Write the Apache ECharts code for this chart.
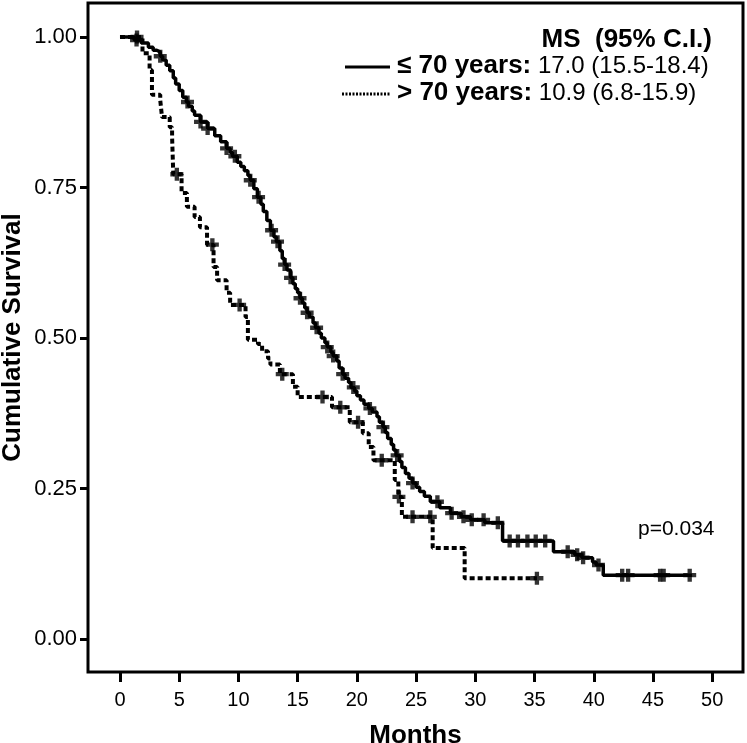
<!DOCTYPE html>
<html>
<head>
<meta charset="utf-8">
<script src="https://cdn.jsdelivr.net/npm/echarts@6/dist/echarts.min.js"></script>
<style>
html,body{margin:0;padding:0;background:#fff;}
#c{width:747px;height:743px;}
</style>
</head>
<body>
<div id="c"></div>
<script>
// ---- tick labels ----
const xTicks = [0, 5, 10, 15, 20, 25, 30, 35, 40, 45, 50];
const yTicks = [0, 0.25, 0.5, 0.75, 1.0];

// ---- <= 70 years (solid) : event times and survival after each event ----
const youngTime = [0, 1.2, 1.8, 2.4, 2.8, 3.1, 3.4, 3.6, 3.9, 4.2, 4.5, 4.7, 5.0, 5.3, 5.6, 5.8, 6.1, 6.3, 6.8, 7.4, 8.0, 8.5, 9.0, 9.3, 9.5, 9.9, 10.2,
  10.5, 10.8, 11.0, 11.3, 11.6, 11.9, 12.1, 12.4, 12.7, 13.0, 13.2, 13.5, 13.7, 13.9, 14.1, 14.4, 14.6, 14.8, 15.0, 15.2, 15.4, 15.6, 15.8, 16.0,
  16.3, 16.5, 16.8, 17.0, 17.3, 17.5, 17.8, 18.0, 18.3, 18.5, 18.8, 19.0, 19.3, 19.5, 19.8, 20.0, 20.3, 20.6, 21.0, 21.3, 21.7, 21.9, 22.2, 22.4,
  22.6, 22.9, 23.1, 23.3, 23.6, 23.8, 24.1, 24.4, 24.7, 25.0, 25.3, 25.7, 26.2, 27.0, 27.9, 28.8, 29.6, 30.8, 32.3, 36.6, 38.4, 39.0, 39.9, 40.2, 40.8];
const youngSurv = [1.0, 0.995, 0.99, 0.983, 0.978, 0.975, 0.968, 0.962, 0.953, 0.944, 0.932, 0.922, 0.911, 0.900, 0.892, 0.885, 0.877, 0.870, 0.859, 0.848, 0.836, 0.826, 0.815, 0.808, 0.802, 0.792, 0.785,
  0.778, 0.770, 0.762, 0.748, 0.734, 0.722, 0.710, 0.695, 0.679, 0.668, 0.660, 0.645, 0.632, 0.622, 0.613, 0.600, 0.590, 0.582, 0.575, 0.566, 0.558, 0.550, 0.542, 0.535,
  0.525, 0.517, 0.508, 0.500, 0.492, 0.485, 0.476, 0.470, 0.462, 0.450, 0.440, 0.433, 0.426, 0.418, 0.412, 0.404, 0.397, 0.390, 0.383, 0.377, 0.369, 0.360, 0.352, 0.343,
  0.333, 0.323, 0.314, 0.305, 0.295, 0.285, 0.275, 0.267, 0.259, 0.252, 0.245, 0.237, 0.228, 0.218, 0.209, 0.203, 0.198, 0.193, 0.163, 0.145, 0.140, 0.135, 0.128, 0.123, 0.106];
const youngEnd = 48.3;
const youngCensor = [1.4, 3.4, 5.7, 6.8, 7.4, 9.0, 9.7, 11.0, 11.7, 12.8, 13.3, 13.9, 14.4, 15.2, 15.8, 16.6, 17.5, 18.0, 18.8, 19.7,
  21.1, 22.2, 23.4, 24.7, 26.8, 28.0, 29.0, 29.7, 30.7, 31.9, 32.9, 33.6, 34.4, 35.1, 35.9, 37.8, 38.6, 39.1, 40.4, 42.4, 42.9, 45.6, 45.9, 48.1];

// ---- > 70 years (dotted) ----
const oldTime = [0, 1.9, 2.5, 2.7, 3.4, 3.55, 4.2, 4.4, 4.5, 5.2, 5.65, 6.3, 6.75, 7.35, 7.9, 8.2, 9.0, 9.3, 10.6, 10.8,
  11.65, 12.0, 12.5, 12.7, 13.5, 14.6, 15.0, 17.9, 19.4, 20.5, 21.0, 21.4, 23.2, 23.5, 23.8, 26.4, 29.1];
const oldSurv = [1.0, 0.973, 0.945, 0.904, 0.895, 0.867, 0.850, 0.834, 0.772, 0.741, 0.718, 0.701, 0.684, 0.655, 0.618, 0.596, 0.575, 0.555, 0.535, 0.497,
  0.490, 0.478, 0.466, 0.456, 0.440, 0.419, 0.402, 0.385, 0.360, 0.342, 0.319, 0.297, 0.264, 0.236, 0.203, 0.151, 0.101];
const oldEnd = 35.2;
const oldCensor = [1.44, 4.8, 7.8, 10.1, 13.7, 17.1, 18.6, 20.1, 22.1, 23.55, 24.7, 26.2, 35.2];

function stepData(times, survs, end) {
  const d = times.map((t, i) => [t, survs[i]]);
  d.push([end, survs[survs.length - 1]]);
  return d;
}
function survAt(times, survs, t) {
  let v = survs[0];
  for (let i = 0; i < times.length; i++) { if (times[i] <= t) v = survs[i]; }
  return v;
}
function censorData(times, survs, cens) {
  return cens.map(t => [t, survAt(times, survs, t)]);
}

const FONT = '"Liberation Sans", Arial, Helvetica, sans-serif';
const PLUS = 'path://M4,0H8V4H12V8H8V12H4V8H0V4H4Z';

const chart = echarts.init(document.getElementById('c'), null, {renderer: 'canvas'});
chart.setOption({
  animation: false,
  backgroundColor: '#fff',
  grid: {left: 88, top: 3, right: 4, bottom: 71, show: true, borderColor: '#000', borderWidth: 3,
         backgroundColor: 'transparent', containLabel: false, outerBoundsMode: 'none'},
  xAxis: {
    type: 'value', min: -2.70, max: 52.6,
    name: 'Months', nameLocation: 'middle', nameGap: 51,
    nameTextStyle: {fontFamily: FONT, fontWeight: 'bold', fontSize: 26, color: '#000'},
    axisLine: {show: false, onZero: false},
    axisTick: {show: true, inside: false, length: 10, lineStyle: {color: '#000', width: 3}, customValues: xTicks},
    axisLabel: {fontFamily: FONT, fontSize: 20, color: '#000', margin: 18, customValues: xTicks, formatter: v => String(v)},
    splitLine: {show: false}
  },
  yAxis: {
    type: 'value', min: -0.0548, max: 1.0565,
    name: 'Cumulative Survival', nameLocation: 'middle', nameGap: 62, nameMoveOverlap: false,
    nameTextStyle: {fontFamily: FONT, fontWeight: 'bold', fontSize: 26, color: '#000'},
    axisLine: {show: false, onZero: false},
    axisTick: {show: true, inside: false, length: 8, lineStyle: {color: '#000', width: 3}, customValues: yTicks},
    axisLabel: {fontFamily: FONT, fontSize: 22, color: '#000', margin: 11, customValues: yTicks, formatter: v => v.toFixed(2)},
    splitLine: {show: false}
  },
  series: [
    {type: 'line', step: 'end', showSymbol: false, data: stepData(youngTime, youngSurv, youngEnd),
     lineStyle: {color: '#000', width: 3.5}, z: 3},
    {type: 'line', step: 'end', showSymbol: false, data: stepData(oldTime, oldSurv, oldEnd),
     lineStyle: {color: '#000', width: 4, type: [5, 3]}, z: 3},
    {type: 'scatter', symbol: PLUS, symbolSize: 13, data: censorData(youngTime, youngSurv, youngCensor),
     itemStyle: {color: '#000'}, z: 4},
    {type: 'scatter', symbol: PLUS, symbolSize: 13, data: censorData(oldTime, oldSurv, oldCensor),
     itemStyle: {color: '#000'}, z: 4}
  ],
  graphic: [
    {type: 'text', right: 35, top: 27, style: {text: 'MS  (95% C.I.)', font: 'bold 26px ' + FONT, fill: '#000'}},
    {type: 'line', shape: {x1: 345, y1: 67, x2: 390, y2: 67}, style: {stroke: '#000', lineWidth: 3}},
    {type: 'line', shape: {x1: 342, y1: 94, x2: 390, y2: 94}, style: {stroke: '#000', lineWidth: 3, lineDash: [2, 1.5]}},
    {type: 'text', left: 397, top: 53, style: {
      text: '{b|≤ 70 years:}  {n|17.0 (15.5-18.4)}',
      rich: {b: {font: 'bold 26px ' + FONT, fill: '#000'}, n: {font: '24px ' + FONT, fill: '#000'}}}},
    {type: 'text', left: 397, top: 80, style: {
      text: '{b|> 70 years:}  {n|10.9 (6.8-15.9)}',
      rich: {b: {font: 'bold 26px ' + FONT, fill: '#000'}, n: {font: '24px ' + FONT, fill: '#000'}}}},
    {type: 'text', left: 638, top: 519, style: {text: 'p=0.034', font: '21px ' + FONT, fill: '#000'}}
  ]
});
</script>
</body>
</html>
